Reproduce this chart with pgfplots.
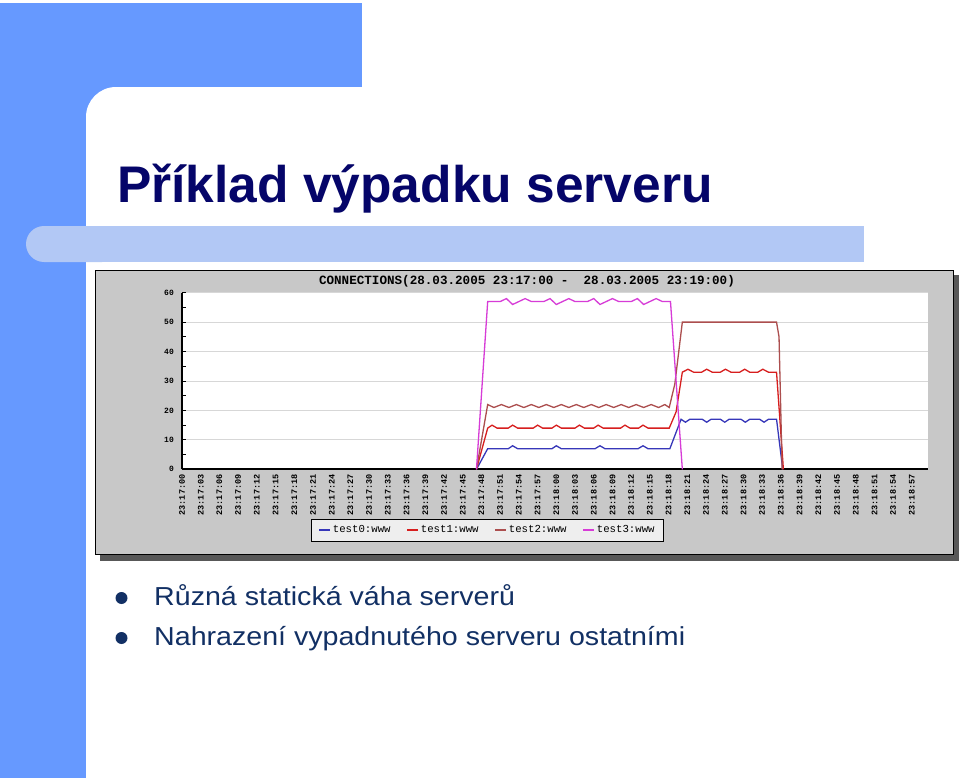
\documentclass[border=0pt]{standalone}
\usepackage{fontspec}
\usepackage{pgfplots}
\pgfplotsset{compat=1.18}
\setmainfont{Liberation Sans}
\newfontfamily\mono{Liberation Mono}
\newfontfamily\bul[FakeStretch=1.1]{Liberation Sans}

\definecolor{slideblue}{RGB}{102,153,255}
\definecolor{barblue}{RGB}{178,200,245}
\definecolor{titleblue}{RGB}{5,5,105}
\definecolor{textblue}{RGB}{18,48,100}
\definecolor{chartgray}{RGB}{200,200,200}
\definecolor{shadowgray}{RGB}{88,88,88}
\definecolor{gridgray}{RGB}{215,215,215}
\definecolor{legendfill}{RGB}{238,238,238}
\definecolor{ctest0}{RGB}{55,55,185}
\definecolor{ctest1}{RGB}{215,30,30}
\definecolor{ctest2}{RGB}{172,78,78}
\definecolor{ctest3}{RGB}{215,60,215}

\begin{document}
\begin{tikzpicture}
\useasboundingbox (0,0) rectangle (960bp,-781bp);
% slide background, pixel coordinates from the top left
\begin{scope}[x=1bp,y=-1bp]
\fill[white] (0,0) rectangle (960,781);
\fill[slideblue] (0,3) rectangle (362,87);
\fill[slideblue] (0,3) rectangle (86,778);
\fill[slideblue] (86,87) rectangle (120,121);
\fill[white,rounded corners=30bp] (86,87) rectangle (1000,820);
\fill[barblue,rounded corners=18bp] (26,226) rectangle (120,262);
\fill[barblue] (60,226) rectangle (864,262);
\node[anchor=base west,inner sep=0,text=titleblue,
  font=\bfseries\fontsize{51.5bp}{60bp}\selectfont] at (117,202) {Příklad výpadku serveru};
% chart frame
\fill[shadowgray] (100,275) rectangle (959,561);
\filldraw[fill=chartgray,draw=black,line width=1bp] (95,270) rectangle (953,554);
\node[inner sep=0,font=\mono\bfseries\fontsize{12.6bp}{14bp}\selectfont]
  at (527,281) {CONNECTIONS(28.03.2005 23:17:00 -\ \ 28.03.2005 23:19:00)};
% bullets
\fill[textblue] (121.5,598) circle (6);
\fill[textblue] (121.5,638) circle (6);
\node[anchor=base west,inner sep=0,text=textblue,font=\bul\fontsize{26bp}{30bp}\selectfont]
  at (154,605) {Různá statická váha serverů};
\node[anchor=base west,inner sep=0,text=textblue,font=\bul\fontsize{26bp}{30bp}\selectfont]
  at (154,645) {Nahrazení vypadnutého serveru ostatními};
\end{scope}

\begin{axis}[
  at={(182bp,-469.3bp)}, anchor=south west,
  scale only axis, width=745.5bp, height=176.6bp,
  xmin=0, xmax=119.5, ymin=0, ymax=60,
  axis background/.style={fill=white},
  axis x line*=bottom, axis y line*=left,
  axis line style={black,line width=2bp},
  ytick={0,10,...,60}, minor y tick num=1,
  tick align=inside, major tick length=4bp, minor tick length=4bp,
  y tick style={black,line width=1bp},
  ymajorgrids, grid style={gridgray,line width=1bp},
  xtick={0,3,...,117}, xtick style={draw=none},
  xticklabels={23:17:00,23:17:03,23:17:06,23:17:09,23:17:12,23:17:15,23:17:18,23:17:21,
    23:17:24,23:17:27,23:17:30,23:17:33,23:17:36,23:17:39,23:17:42,23:17:45,23:17:48,
    23:17:51,23:17:54,23:17:57,23:18:00,23:18:03,23:18:06,23:18:09,23:18:12,23:18:15,
    23:18:18,23:18:21,23:18:24,23:18:27,23:18:30,23:18:33,23:18:36,23:18:39,23:18:42,
    23:18:45,23:18:48,23:18:51,23:18:54,23:18:57},
  xticklabel style={rotate=90,anchor=east,inner xsep=5bp,inner ysep=0pt,
    font=\mono\bfseries\fontsize{8.5bp}{9bp}\selectfont},
  yticklabel style={inner sep=0pt,xshift=-8bp,font=\mono\bfseries\fontsize{8bp}{9bp}\selectfont},
  /pgf/number format/assume math mode=true,
  legend style={at={(0.173,-0.2814)},anchor=north west,legend columns=4,
    draw=black,fill=legendfill,inner xsep=7bp,inner ysep=5bp,
    font=\mono\fontsize{10.7bp}{12bp}\selectfont,nodes={inner sep=1.5bp},
    /tikz/every even column/.append style={column sep=14bp}},
  legend image code/.code={\draw[#1,line width=2.2bp] (0bp,0bp) -- (11bp,0bp);},
  every axis plot/.append style={line width=1.3bp,no marks},
]
\addplot[ctest0] coordinates {(47.2,0) (49,7) (52.3,7) (53,8) (53.8,7) (59.3,7) (60,8) (60.8,7)
  (66.2,7) (67,8) (67.8,7) (73.1,7) (73.9,8) (74.7,7) (78.2,7) (80,17) (80.7,16) (81.4,17)
  (83.4,17) (84.1,16) (84.8,17) (86.3,17) (87,16) (87.7,17) (89.6,17) (90.3,16) (91,17)
  (92.6,17) (93.3,16) (94,17) (95.3,17) (96.3,0)};
\addplot[ctest1] coordinates {(47.2,0) (49,14) (49.7,15) (50.5,14) (52.3,14) (53,15) (53.8,14)
  (56.3,14) (57,15) (57.8,14) (59.3,14) (60,15) (60.8,14) (63,14) (63.7,15) (64.5,14)
  (66,14) (66.7,15) (67.5,14) (70.3,14) (71,15) (71.8,14) (73.2,14) (73.9,15) (74.7,14)
  (78.1,14) (79.2,19.5) (80.2,33) (81.1,34) (82,33) (83.3,33) (84.1,34) (85,33) (86.3,33)
  (87.1,34) (88,33) (89.4,33) (90.2,34) (91,33) (92.3,33) (93.1,34) (94,33) (95.3,33) (96.4,0)};
\addplot[ctest2] coordinates {(47.2,0) (49,22) (50,21) (51.2,22) (52.4,21) (53.6,22) (54.8,21)
  (56,22) (57.2,21) (58.4,22) (59.6,21) (60.8,22) (62,21) (63.2,22) (64.4,21) (65.6,22)
  (66.8,21) (68,22) (69.2,21) (70.4,22) (71.6,21) (72.8,22) (74,21) (75.2,22) (76.4,21)
  (77.4,22) (78.1,21) (79,29) (80.2,50) (95.3,50) (95.7,45) (96.2,0)};
\addplot[ctest3] coordinates {(47.2,0) (49,57) (51,57) (52,58) (53,56) (55,58) (56,57) (58,57)
  (59,58) (60,56) (62,58) (63,57) (65,57) (66,58) (67,56) (69,58) (70,57) (72,57) (73,58)
  (74,56) (76,58) (77,57) (78.3,57) (80.2,0)};
\legend{test0:www,test1:www,test2:www,test3:www}
\end{axis}
\end{tikzpicture}
\end{document}
